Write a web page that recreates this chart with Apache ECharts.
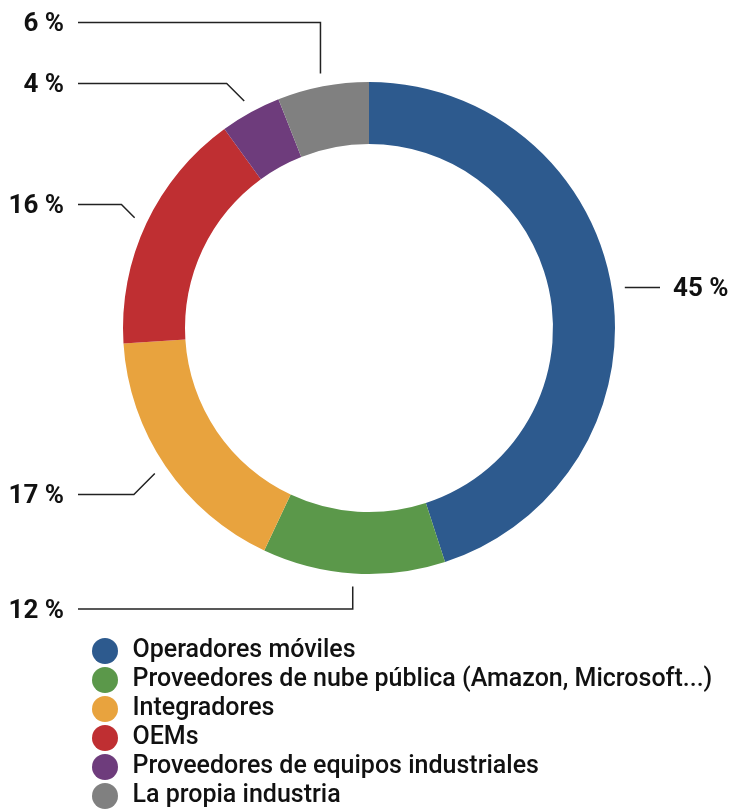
<!DOCTYPE html>
<html>
<head>
<meta charset="utf-8">
<script src="https://cdn.jsdelivr.net/npm/echarts@6/dist/echarts.min.js"></script>
<style>
  html, body { margin: 0; padding: 0; background: #fff; }
  #chart { width: 730px; height: 810px; }
</style>
</head>
<body>
<div id="chart"></div>
<script>
// data
const categories = [
  "Operadores móviles",
  "Proveedores de nube pública (Amazon, Microsoft...)",
  "Integradores",
  "OEMs",
  "Proveedores de equipos industriales",
  "La propia industria"
];
const shares = [45, 12, 17, 16, 4, 6];
const colors = ["#2d5a8e", "#5b984a", "#e8a33e", "#bf2f32", "#6e3c7c", "#808080"];

// where each callout lands (layout only)
const labelSpots = [
  { side: "right", bend: "none" },
  { side: "left", bend: "vertical", y: 609 },
  { side: "left", bend: "diagonal", y: 494.5 },
  { side: "left", bend: "diagonal", y: 204.5 },
  { side: "left", bend: "diagonal", y: 83.5 },
  { side: "left", bend: "vertical", y: 22.5 }
];
const LINE_GAP = 13;
const LEFT_LINE_END = 78;
const LEFT_TEXT_X = 64;
const RIGHT_LINE_END = 660;
const RIGHT_TEXT_X = 673;
const FONT = "Roboto, 'Noto Sans', sans-serif";

const chart = echarts.init(document.getElementById("chart"));

function placeLabel(params) {
  const spot = labelSpots[params.dataIndex];
  const pts = params.labelLinePoints;
  if (!pts) return {};
  const dx = pts[1][0] - pts[0][0];
  const dy = pts[1][1] - pts[0][1];
  const len = Math.hypot(dx, dy) || 1;
  const sx = pts[0][0] + (dx / len) * LINE_GAP;
  const sy = pts[0][1] + (dy / len) * LINE_GAP;
  const y = spot.bend === "none" ? sy : spot.y;
  let bend;
  if (spot.bend === "vertical") bend = [sx, y];
  else if (spot.bend === "diagonal") bend = [sx - Math.abs(y - sy), y];
  else bend = [sx, sy];
  const left = spot.side === "left";
  return {
    x: left ? LEFT_TEXT_X : RIGHT_TEXT_X,
    y: y + 2,
    align: left ? "right" : "left",
    verticalAlign: "middle",
    labelLinePoints: [[sx, sy], bend, [left ? LEFT_LINE_END : RIGHT_LINE_END, y]]
  };
}

chart.setOption({
  animation: false,
  color: colors,
  legend: {
    orient: "vertical",
    left: 92,
    top: 638,
    padding: 0,
    icon: "circle",
    itemWidth: 45,
    itemHeight: 26,
    itemGap: 3,
    selectedMode: false,
    data: categories,
    textStyle: { fontFamily: FONT, fontSize: 25, fontWeight: 500, color: "#111", lineHeight: 26 }
  },
  series: [
    {
      type: "pie",
      center: [369, 328],
      radius: [184, 246],
      startAngle: 90,
      clockwise: true,
      avoidLabelOverlap: false,
      label: {
        show: true,
        position: "outside",
        formatter: "{c} %",
        fontFamily: FONT,
        fontSize: 26,
        fontWeight: "bold",
        color: "#111"
      },
      labelLine: {
        show: true,
        length: 20,
        length2: 20,
        lineStyle: { color: "#222", width: 1.5 }
      },
      labelLayout: placeLabel,
      emphasis: { disabled: true },
      data: categories.map((name, i) => ({ name: name, value: shares[i] }))
    }
  ]
});
</script>
</body>
</html>
